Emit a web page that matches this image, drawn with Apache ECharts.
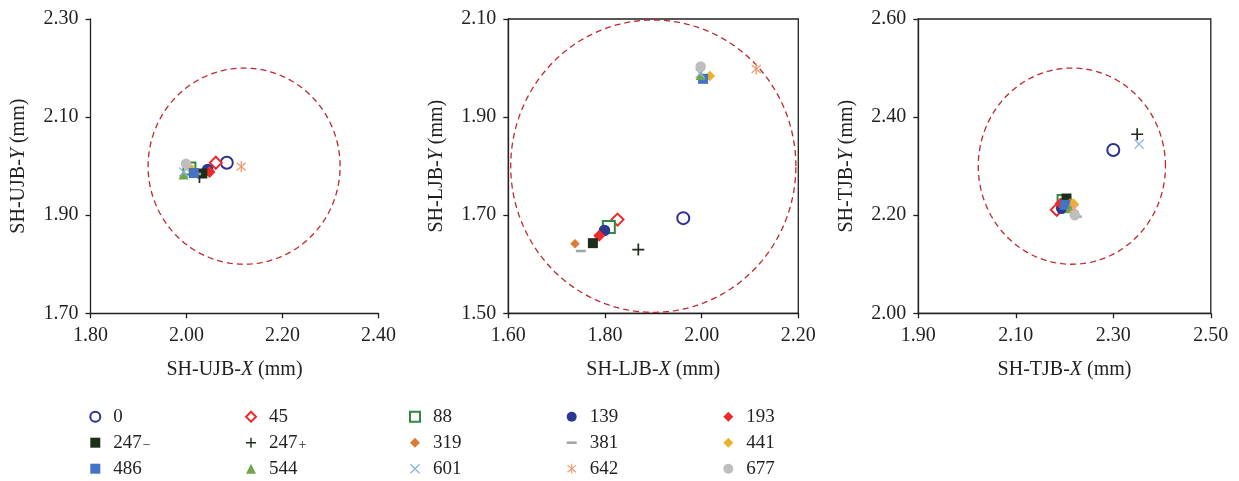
<!DOCTYPE html>
<html>
<head>
<meta charset="utf-8">
<script src="https://cdn.jsdelivr.net/npm/echarts@6.0.0/dist/echarts.min.js"></script>
<style>
  html, body { margin: 0; padding: 0; background: #fff; }
  #chart { width: 1239px; height: 481px; }
</style>
</head>
<body>
<div id="chart"></div>
<script>
// Loading steps (series names used in the legend)
const seriesNames = ['0', '45', '88', '139', '193', '247\u2212', '247+', '319', '381', '441', '486', '544', '601', '642', '677'];

// SH-UJB centre positions (mm)
const ujbX = [2.084, 2.061, 2.006, 2.044, 2.048, 2.033, 2.027, 2.018, 2.020, 2.011, 2.015, 1.994, 1.994, 2.114, 1.999];
const ujbY = [2.007, 2.007, 1.995, 1.993, 1.988, 1.985, 1.978, 1.985, 1.984, 1.993, 1.986, 1.983, 1.988, 1.999, 2.005];

// SH-LJB centre positions (mm)
const ljbX = [1.962, 1.826, 1.808, 1.799, 1.788, 1.775, 1.869, 1.738, 1.750, 2.017, 2.003, 1.998, 1.997, 2.113, 1.998];
const ljbY = [1.694, 1.691, 1.676, 1.669, 1.658, 1.643, 1.630, 1.642, 1.627, 1.984, 1.978, 1.986, 1.989, 1.998, 2.003];

// SH-TJB centre positions (mm)
const tjbX = [2.300, 2.184, 2.198, 2.194, 2.192, 2.204, 2.349, 2.211, 2.225, 2.218, 2.201, 2.211, 2.353, 2.220, 2.221];
const tjbY = [2.333, 2.211, 2.229, 2.214, 2.224, 2.234, 2.365, 2.225, 2.197, 2.224, 2.221, 2.214, 2.345, 2.214, 2.200];

// Tolerance circles: centre and radii (mm)
const circleCx = [2.12, 1.90, 2.215];
const circleCy = [2.00, 1.80, 2.30];
const circleRx = [0.20, 0.295, 0.192];
const circleRy = [0.20, 0.298, 0.20];

// Axis ranges and titles
const xMin = [1.80, 1.60, 1.90];
const xMax = [2.40, 2.20, 2.50];
const yMin = [1.70, 1.50, 2.00];
const yMax = [2.30, 2.10, 2.60];
const panelTags = ['UJB', 'LJB', 'TJB'];

const INK = '#231F20';
const FONT = '"Liberation Serif", "Times New Roman", serif';

// Thin-bar glyphs built as filled outlines
function bars(segs, w) {
  return 'path://' + segs.map(function (s) {
    const dx = s[2] - s[0], dy = s[3] - s[1], L = Math.hypot(dx, dy);
    const nx = -dy / L * w / 2, ny = dx / L * w / 2;
    const f = function (v) { return v.toFixed(3); };
    return 'M' + f(s[0] + nx) + ',' + f(s[1] + ny) + 'L' + f(s[2] + nx) + ',' + f(s[3] + ny) +
           'L' + f(s[2] - nx) + ',' + f(s[3] - ny) + 'L' + f(s[0] - nx) + ',' + f(s[1] - ny) + 'Z';
  }).join('');
}
const PLUS = bars([[5, 0, 5, 10], [0, 5, 10, 5]], 1.4);
const CROSS = bars([[0.6, 0.6, 9.4, 9.4], [9.4, 0.6, 0.6, 9.4]], 1.3);
const STAR = bars([[5, 0, 5, 10], [0.8, 1.4, 9.2, 8.6], [9.2, 1.4, 0.8, 8.6]], 1.2);
const DASH = 'path://M0,0H10V2.6H0Z';

// Marker style per series
const markers = [
  { symbol: 'emptyCircle', size: 12, color: '#2E3192', border: 1.5 },
  { symbol: 'emptyDiamond', size: 12, color: '#EC2A2C', border: 1.5 },
  { symbol: 'emptyRect', size: 12, color: '#2F8A3F', border: 1.5 },
  { symbol: 'circle', size: 11.5, color: '#2B3990' },
  { symbol: 'diamond', size: 12, color: '#EC2A2C' },
  { symbol: 'rect', size: 10, color: '#1C2E1A' },
  { symbol: PLUS, size: 12, color: '#1C2E1A' },
  { symbol: 'diamond', size: 9.5, color: '#DD7B34' },
  { symbol: DASH, size: 10, color: '#A5A5A5' },
  { symbol: 'diamond', size: 10.5, color: '#EAB12B' },
  { symbol: 'rect', size: 10, color: '#4472C4' },
  { symbol: 'triangle', size: 10, color: '#70A64A' },
  { symbol: CROSS, size: 10, color: '#8DB3E2' },
  { symbol: STAR, size: 11, color: '#F19B72' },
  { symbol: 'circle', size: 10.5, color: '#BEBEBE' }
];

const panelX = [ujbX, ljbX, tjbX];
const panelY = [ujbY, ljbY, tjbY];

const grids = [
  { left: 90.5, top: 19, width: 288, height: 294.3, show: false },
  { left: 508.3, top: 19, width: 290, height: 294.3, show: true, borderColor: INK, borderWidth: 1.3 },
  { left: 918.3, top: 19, width: 292.5, height: 294.3, show: true, borderColor: INK, borderWidth: 1.3 }
];

function axisBase(i) {
  return {
    gridIndex: i,
    type: 'value',
    interval: 0.2,
    nameLocation: 'middle',
    nameTextStyle: {
      fontFamily: FONT, fontSize: 20, color: INK,
      rich: { i: { fontFamily: FONT, fontSize: 20, color: INK, fontStyle: 'italic' } }
    },
    axisLine: { show: true, onZero: false, lineStyle: { color: INK, width: 1.3 } },
    axisTick: { show: true, length: 5, lineStyle: { color: INK, width: 1.3 } },
    axisLabel: {
      margin: 12, color: INK, fontFamily: FONT, fontSize: 20,
      formatter: function (v) { return v.toFixed(2); }
    },
    splitLine: { show: false }
  };
}

const xAxes = [], yAxes = [], series = [];
for (let p = 0; p < 3; p++) {
  xAxes.push(Object.assign(axisBase(p), {
    min: xMin[p], max: xMax[p], name: 'SH-' + panelTags[p] + '-{i|X} (mm)', nameGap: 46
  }));
  yAxes.push(Object.assign(axisBase(p), {
    min: yMin[p], max: yMax[p], name: 'SH-' + panelTags[p] + '-{i|Y} (mm)', nameGap: 62
  }));

  // dashed tolerance circle
  const ring = [];
  for (let k = 0; k <= 240; k++) {
    const a = k / 240 * Math.PI * 2;
    ring.push([circleCx[p] + circleRx[p] * Math.cos(a), circleCy[p] + circleRy[p] * Math.sin(a)]);
  }
  series.push({
    type: 'line', xAxisIndex: p, yAxisIndex: p, data: ring, showSymbol: false, symbol: 'none',
    smooth: false, clip: false, silent: true, z: 1,
    lineStyle: { color: '#C1272D', width: 1.3, type: [6, 4] }
  });

  for (let k = 0; k < seriesNames.length; k++) {
    const m = markers[k];
    series.push({
      type: 'scatter', name: seriesNames[k], xAxisIndex: p, yAxisIndex: p,
      data: [[panelX[p][k], panelY[p][k]]],
      symbol: m.symbol, symbolSize: m.size, symbolKeepAspect: true,
      itemStyle: { color: m.color, borderWidth: m.border || 0, opacity: 1 },
      emphasis: { disabled: true }, z: 2
    });
  }
}

// Legend: five columns of three rows
const legendLeft = [89.3, 245, 409, 566.7, 723.3];
const legends = legendLeft.map(function (lx, c) {
  return {
    orient: 'vertical', left: lx, top: 406.7, padding: 0,
    itemWidth: 10, itemHeight: 10, itemGap: 6, selectedMode: false,
    data: [seriesNames[c], seriesNames[5 + c], seriesNames[10 + c]],
    formatter: function (name) {
      if (name.indexOf('247') === 0) {
        return '247{' + (name.slice(3) === '+' ? 'pl' : 'mi') + '|' + name.slice(3) + '}';
      }
      return name;
    },
    textStyle: {
      fontFamily: FONT, fontSize: 19, color: INK, lineHeight: 20, padding: [0, 0, 0, 8],
      rich: {
        mi: { fontFamily: FONT, fontSize: 14, color: INK, lineHeight: 5, verticalAlign: 'bottom', padding: [0, 0, 0, 1] },
        pl: { fontFamily: FONT, fontSize: 14, color: INK, lineHeight: 9, verticalAlign: 'bottom', padding: [0, 0, 0, 1] }
      }
    }
  };
});

const chart = echarts.init(document.getElementById('chart'), null, { renderer: 'canvas' });
chart.setOption({
  animation: false,
  backgroundColor: '#fff',
  grid: grids,
  xAxis: xAxes,
  yAxis: yAxes,
  legend: legends,
  series: series
});
</script>
</body>
</html>
